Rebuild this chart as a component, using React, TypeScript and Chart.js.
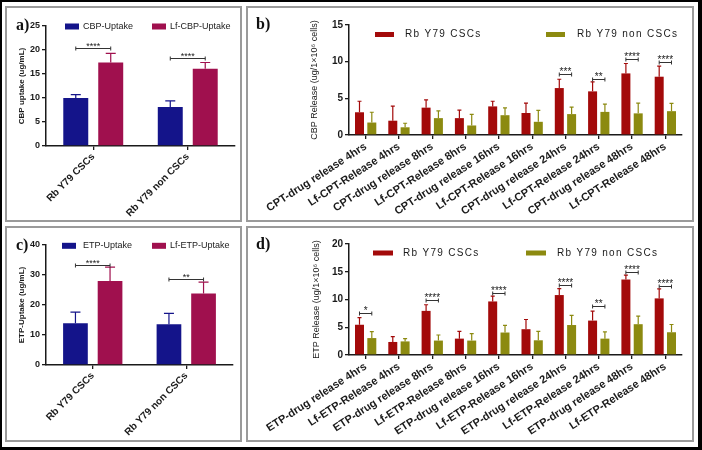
import React, { useEffect, useRef } from "react";
import { Chart, registerables } from "chart.js";

Chart.register(...registerables);

// ---------------- data ----------------
const uptakeGroups = ["Rb Y79 CSCs", "Rb Y79 non CSCs"];

const cbpUptake = [10.0, 8.1];
const cbpUptakeErr = [0.7, 1.3];
const lfCbpUptake = [17.4, 16.1];
const lfCbpUptakeErr = [1.9, 1.3];
const cbpUptakeSigIdx = [0, 1];
const cbpUptakeSigLabel = ["****", "****"];
const cbpUptakeSigY = [20.4, 18.3];
const cbpUptakeTicks = [0, 5, 10, 15, 20, 25];

const etpUptake = [13.9, 13.6];
const etpUptakeErr = [3.7, 3.6];
const lfEtpUptake = [28.0, 23.8];
const lfEtpUptakeErr = [4.6, 3.8];
const etpUptakeSigIdx = [0, 1];
const etpUptakeSigLabel = ["****", "**"];
const etpUptakeSigY = [33.4, 28.7];
const etpUptakeTicks = [0, 10, 20, 30, 40];

const cptTimepoints = [
  "CPT-drug release 4hrs",
  "Lf-CPT-Release 4hrs",
  "CPT-drug release 8hrs",
  "Lf-CPT-Release 8hrs",
  "CPT-drug release 16hrs",
  "Lf-CPT-Release 16hrs",
  "CPT-drug release 24hrs",
  "Lf-CPT-Release 24hrs",
  "CPT-drug release 48hrs",
  "Lf-CPT-Release 48hrs",
];
const cptCsc = [3.1, 1.95, 3.73, 2.3, 3.9, 3.0, 6.4, 5.95, 8.4, 7.95];
const cptCscErr = [1.5, 2.0, 1.05, 1.1, 0.7, 1.35, 1.2, 1.3, 1.35, 1.45];
const cptNonCsc = [1.7, 1.05, 2.3, 1.3, 2.7, 1.8, 2.85, 3.15, 2.95, 3.25];
const cptNonCscErr = [1.4, 0.55, 1.0, 1.5, 1.0, 1.55, 0.95, 1.05, 1.4, 1.05];
const cptSigIdx = [6, 7, 8, 9];
const cptSigLabel = ["***", "**", "****", "****"];
const cptSigY = [8.3, 7.65, 10.35, 10.0];
const cptTicks = [0, 5, 10, 15];

const etpTimepoints = [
  "ETP-drug release 4hrs",
  "Lf-ETP-Release 4hrs",
  "ETP-drug release 8hrs",
  "Lf-ETP-Release 8hrs",
  "ETP-drug release 16hrs",
  "Lf-ETP-Release 16hrs",
  "ETP-drug release 24hrs",
  "Lf-ETP-Release 24hrs",
  "ETP-drug release 48hrs",
  "Lf-ETP-Release 48hrs",
];
const etpCsc = [5.45, 2.35, 7.95, 2.95, 9.65, 4.65, 10.8, 6.2, 13.6, 10.2];
const etpCscErr = [1.3, 0.95, 1.1, 1.3, 0.95, 1.75, 1.15, 1.7, 0.8, 1.7];
const etpNonCsc = [3.05, 2.45, 2.6, 2.6, 4.05, 2.65, 5.4, 2.95, 5.55, 4.1];
const etpNonCscErr = [1.15, 0.5, 1.0, 1.25, 1.3, 1.6, 1.75, 1.2, 1.45, 1.4];
const etpSigIdx = [0, 2, 4, 6, 7, 8, 9];
const etpSigLabel = ["*", "****", "****", "****", "**", "****", "****"];
const etpSigY = [7.5, 9.95, 11.2, 12.7, 8.8, 14.95, 12.45];
const etpTicks = [0, 5, 10, 15, 20];

// ---------------- styling ----------------
const FONT = "'Liberation Sans', Arial, Helvetica, sans-serif";
const INK = "#1a1a1a";
const NAVY = "#14148a";
const MAROON = "#a0104e";
const RED = "#a30a0a";
const OLIVE = "#8c8a10";

const errorBarPlugin = {
  id: "errorBars",
  afterDatasetsDraw(chart: any, _args: any, opts: any) {
    const ctx = chart.ctx;
    const y = chart.scales.y;
    chart.data.datasets.forEach((ds: any, di: number) => {
      const meta = chart.getDatasetMeta(di);
      if (!ds.errors) return;
      ctx.save();
      ctx.strokeStyle = ds.errorColor || ds.backgroundColor;
      ctx.lineWidth = opts.lineWidth || 1.2;
      meta.data.forEach((el: any, i: number) => {
        const top = y.getPixelForValue(ds.data[i] + ds.errors[i]);
        ctx.beginPath();
        ctx.moveTo(el.x, el.y);
        ctx.lineTo(el.x, top);
        ctx.moveTo(el.x - opts.cap / 2, top);
        ctx.lineTo(el.x + opts.cap / 2, top);
        ctx.stroke();
      });
      ctx.restore();
    });
  },
};

const bracketPlugin = {
  id: "sigBrackets",
  afterDatasetsDraw(chart: any, _args: any, opts: any) {
    const ctx = chart.ctx;
    const y = chart.scales.y;
    const m0 = chart.getDatasetMeta(0);
    const m1 = chart.getDatasetMeta(1);
    ctx.save();
    ctx.strokeStyle = "#333";
    ctx.fillStyle = INK;
    ctx.lineWidth = 1;
    ctx.font = opts.font;
    ctx.textAlign = "center";
    ctx.textBaseline = "alphabetic";
    opts.indices.forEach((idx: number, k: number) => {
      const x0 = m0.data[idx].x;
      const x1 = m1.data[idx].x;
      const py = Math.round(y.getPixelForValue(opts.values[k])) + 0.5;
      ctx.beginPath();
      ctx.moveTo(x0, py);
      ctx.lineTo(x1, py);
      ctx.moveTo(x0, py - 2);
      ctx.lineTo(x0, py + 2);
      ctx.moveTo(x1, py - 2);
      ctx.lineTo(x1, py + 2);
      ctx.stroke();
      ctx.fillText(opts.labels[k], (x0 + x1) / 2, py + opts.textDy);
    });
    ctx.restore();
  },
};

const boxLegendPlugin = {
  id: "boxLegend",
  afterDraw(chart: any, _args: any, opts: any) {
    const ctx = chart.ctx;
    ctx.save();
    ctx.font = opts.font;
    (ctx as any).letterSpacing = opts.spacing;
    ctx.textBaseline = "middle";
    ctx.textAlign = "left";
    chart.data.datasets.forEach((ds: any, i: number) => {
      const it = opts.items[i];
      ctx.fillStyle = ds.backgroundColor;
      ctx.fillRect(it.box, opts.y - opts.boxH / 2, opts.boxW, opts.boxH);
      ctx.fillStyle = INK;
      ctx.fillText(ds.label, it.text, opts.y);
    });
    (ctx as any).letterSpacing = "0px";
    ctx.font = opts.tagFont;
    ctx.textBaseline = "alphabetic";
    ctx.fillStyle = "#111";
    ctx.fillText(opts.tag, opts.tagX, opts.tagY);
    ctx.restore();
  },
};

type Spec = {
  labels: string[];
  names: string[];
  colors: string[];
  values: number[][];
  errors: number[][];
  ticks: number[];
  sigIdx: number[];
  sigLabel: string[];
  sigY: number[];
  yTitle: string;
  tag: string;
  w: number;
  h: number;
  plotLeft: number;
  plotRight: number;
  plotTop: number;
  plotBottom: number;
  yTitleFont: any;
  yTitlePad: number;
  yTickSize: number;
  xTickSize: number;
  rotation: number;
  legend: any;
  cap: number;
  starFont: string;
  tagX: number;
  tagY: number;
};

function makeConfig(s: Spec): any {
  const axisCommon = {
    grid: {
      display: true,
      drawOnChartArea: false,
      drawTicks: true,
      tickLength: 4,
      color: INK,
      lineWidth: 1.3,
      offset: false,
    },
    border: { display: true, color: INK, width: 1.5 },
  };
  return {
    type: "bar",
    data: {
      labels: s.labels,
      datasets: s.names.map((n, i) => ({
        label: n,
        data: s.values[i],
        errors: s.errors[i],
        errorColor: s.colors[i],
        backgroundColor: s.colors[i],
        borderWidth: 0,
        categoryPercentage: 0.74,
        barPercentage: s.w > 300 ? 0.73 : 0.714,
      })),
    },
    options: {
      animation: false,
      responsive: false,
      devicePixelRatio: 1,
      layout: {
        padding: { left: 0, top: s.plotTop, right: s.w - s.plotRight, bottom: 0 },
      },
      plugins: {
        legend: { display: false },
        tooltip: { enabled: false },
        errorBars: { cap: s.cap, lineWidth: 1.2 },
        sigBrackets: {
          indices: s.sigIdx,
          labels: s.sigLabel,
          values: s.sigY,
          font: s.starFont,
          textDy: 0,
        },
        boxLegend: {
          ...s.legend,
          tag: s.tag,
          tagX: s.tagX,
          tagY: s.tagY,
          tagFont: "bold 16px 'Liberation Serif', 'Times New Roman', serif",
        },
      },
      scales: {
        x: {
          type: "category",
          offset: true,
          ...axisCommon,
          ticks: {
            autoSkip: false,
            minRotation: s.rotation,
            maxRotation: s.rotation,
            color: INK,
            padding: 1,
            font: { family: FONT, size: s.xTickSize, weight: "bold" },
          },
          afterFit: (sc: any) => {
            sc.height = s.h - s.plotBottom;
          },
        },
        y: {
          min: s.ticks[0],
          max: s.ticks[s.ticks.length - 1],
          ...axisCommon,
          afterBuildTicks: (sc: any) => {
            sc.ticks = s.ticks.map((v) => ({ value: v }));
          },
          ticks: {
            color: INK,
            padding: 2,
            font: { family: FONT, size: s.yTickSize, weight: "bold" },
          },
          title: {
            display: true,
            text: s.yTitle,
            color: INK,
            font: s.yTitleFont,
            padding: { top: s.yTitlePad, bottom: 0 },
          },
          afterFit: (sc: any) => {
            sc.width = s.plotLeft;
          },
        },
      },
    },
    plugins: [errorBarPlugin, bracketPlugin, boxLegendPlugin],
  };
}

const smallGeom = {
  w: 233,
  h: 212,
  yTickSize: 9,
  xTickSize: 10,
  rotation: 45,
  cap: 10,
  starFont: `9px ${FONT}`,
  tagX: 9,
  tagY: 22,
};

const wideGeom = {
  w: 445,
  h: 212,
  plotLeft: 101,
  plotRight: 434,
  yTickSize: 10,
  xTickSize: 11,
  rotation: 33,
  cap: 4,
  starFont: `10px ${FONT}`,
  tagX: 8,
  tagY: 21,
  yTitleFont: { family: FONT, size: 9, weight: "normal" },
};

const specA: Spec = {
  ...smallGeom,
  labels: uptakeGroups,
  names: ["CBP-Uptake", "Lf-CBP-Uptake"],
  colors: [NAVY, MAROON],
  values: [cbpUptake, lfCbpUptake],
  errors: [cbpUptakeErr, lfCbpUptakeErr],
  ticks: cbpUptakeTicks,
  sigIdx: cbpUptakeSigIdx,
  sigLabel: cbpUptakeSigLabel,
  sigY: cbpUptakeSigY,
  yTitle: "CBP uptake (ug/mL)",
  tag: "a)",
  plotLeft: 39,
  plotRight: 228,
  plotTop: 18,
  plotBottom: 138,
  yTitleFont: { family: FONT, size: 8, weight: "bold" },
  yTitlePad: 10,
  legend: {
    y: 18.5,
    boxW: 14,
    boxH: 6,
    font: `9px ${FONT}`,
    spacing: "0px",
    items: [
      { box: 58, text: 76 },
      { box: 145, text: 163 },
    ],
  },
};

const specC: Spec = {
  ...smallGeom,
  labels: uptakeGroups,
  names: ["ETP-Uptake", "Lf-ETP-Uptake"],
  colors: [NAVY, MAROON],
  values: [etpUptake, lfEtpUptake],
  errors: [etpUptakeErr, lfEtpUptakeErr],
  ticks: etpUptakeTicks,
  sigIdx: etpUptakeSigIdx,
  sigLabel: etpUptakeSigLabel,
  sigY: etpUptakeSigY,
  yTitle: "ETP-Uptake (ug/mL)",
  tag: "c)",
  plotLeft: 39,
  plotRight: 226,
  plotTop: 17,
  plotBottom: 137,
  yTitleFont: { family: FONT, size: 8, weight: "bold" },
  yTitlePad: 10,
  legend: {
    y: 17.8,
    boxW: 14,
    boxH: 6,
    font: `9px ${FONT}`,
    spacing: "0px",
    items: [
      { box: 55, text: 76 },
      { box: 145, text: 163 },
    ],
  },
};

const specB: Spec = {
  ...wideGeom,
  labels: cptTimepoints,
  names: ["Rb Y79 CSCs", "Rb Y79 non CSCs"],
  colors: [RED, OLIVE],
  values: [cptCsc, cptNonCsc],
  errors: [cptCscErr, cptNonCscErr],
  ticks: cptTicks,
  sigIdx: cptSigIdx,
  sigLabel: cptSigLabel,
  sigY: cptSigY,
  yTitle: "CBP Release (ug/1×10⁶ cells)",
  tag: "b)",
  plotTop: 17,
  plotBottom: 127,
  yTitlePad: 61.6,
  legend: {
    y: 26.5,
    boxW: 19,
    boxH: 5,
    font: `10px ${FONT}`,
    spacing: "1.3px",
    items: [
      { box: 127, text: 157 },
      { box: 298, text: 329 },
    ],
  },
} as Spec;

const specD: Spec = {
  ...wideGeom,
  labels: etpTimepoints,
  names: ["Rb Y79 CSCs", "Rb Y79 non CSCs"],
  colors: [RED, OLIVE],
  values: [etpCsc, etpNonCsc],
  errors: [etpCscErr, etpNonCscErr],
  ticks: etpTicks,
  sigIdx: etpSigIdx,
  sigLabel: etpSigLabel,
  sigY: etpSigY,
  yTitle: "ETP Release (ug/1×10⁶ cells)",
  tag: "d)",
  plotTop: 16,
  plotBottom: 127,
  yTitlePad: 63.6,
  legend: {
    y: 25,
    boxW: 20,
    boxH: 5,
    font: `10px ${FONT}`,
    spacing: "1.3px",
    items: [
      { box: 125, text: 155 },
      { box: 278, text: 309 },
    ],
  },
} as Spec;

const panelBox = (left: number, top: number, width: number, height: number): React.CSSProperties => ({
  position: "absolute",
  left,
  top,
  width,
  height,
  boxSizing: "border-box",
  border: "2px solid #9a9a9a",
  background: "#fff",
});

const canvasStyle = (left: number, top: number, w: number, h: number): React.CSSProperties => ({
  position: "absolute",
  left,
  top,
  width: w,
  height: h,
  display: "block",
});

export default function App() {
  const refA = useRef<HTMLCanvasElement | null>(null);
  const refB = useRef<HTMLCanvasElement | null>(null);
  const refC = useRef<HTMLCanvasElement | null>(null);
  const refD = useRef<HTMLCanvasElement | null>(null);

  useEffect(() => {
    Chart.defaults.font.family = FONT;
    Chart.defaults.color = INK;
    const charts: Chart[] = [];
    const pairs: [HTMLCanvasElement | null, Spec][] = [
      [refA.current, specA],
      [refB.current, specB],
      [refC.current, specC],
      [refD.current, specD],
    ];
    pairs.forEach(([cv, spec]) => {
      if (cv) charts.push(new Chart(cv, makeConfig(spec)));
    });
    return () => {
      charts.forEach((c) => c.destroy());
    };
  }, []);

  return (
    <div
      style={{
        position: "absolute",
        left: 0,
        top: 0,
        width: 702,
        height: 450,
        background: "#fff",
        overflow: "hidden",
      }}
    >
      <div
        style={{
          position: "absolute",
          left: 0,
          top: 0,
          width: 702,
          height: 450,
          boxSizing: "border-box",
          borderTop: "2px solid #000",
          borderLeft: "2px solid #000",
          borderRight: "4px solid #000",
          borderBottom: "3px solid #000",
        }}
      />
      <div style={panelBox(5, 6, 237, 216)} />
      <div style={panelBox(246, 6, 448, 216)} />
      <div style={panelBox(5, 226, 237, 216)} />
      <div style={panelBox(246, 226, 448, 216)} />
      <canvas ref={refA} width={233} height={212} style={canvasStyle(7, 8, 233, 212)} />
      <canvas ref={refB} width={445} height={212} style={canvasStyle(248, 8, 445, 212)} />
      <canvas ref={refC} width={233} height={212} style={canvasStyle(7, 228, 233, 212)} />
      <canvas ref={refD} width={445} height={212} style={canvasStyle(248, 228, 445, 212)} />
    </div>
  );
}
